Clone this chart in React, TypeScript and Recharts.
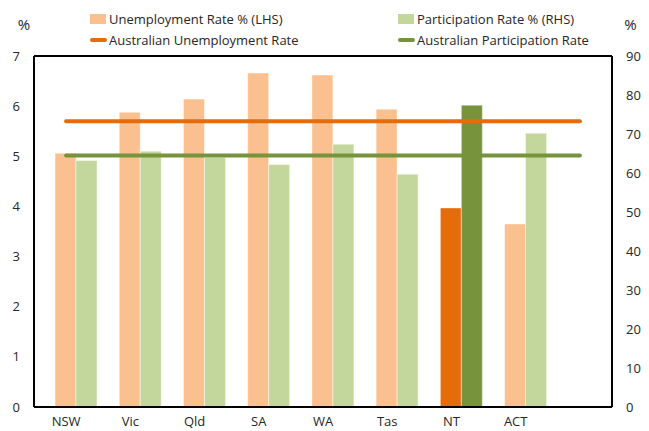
import { ComposedChart, Bar, Line, XAxis, YAxis, Cell, Legend, ReferenceLine, Label } from "recharts";

const states = ["NSW", "Vic", "Qld", "SA", "WA", "Tas", "NT", "ACT", ""];
const unemploymentRate = [5.06, 5.88, 6.14, 6.66, 6.62, 5.94, 3.97, 3.65, null];
const participationRate = [63.2, 65.6, 64.0, 62.2, 67.4, 59.7, 77.4, 70.2, null];
const ausUnemploymentRate = 5.7;
const ausParticipationRate = 64.5;
const leftTicks = [0, 1, 2, 3, 4, 5, 6, 7];
const rightTicks = [0, 10, 20, 30, 40, 50, 60, 70, 80, 90];
const highlight = "NT";

const data = states.map((state, i) => ({
  state,
  unemployment: unemploymentRate[i],
  participation: participationRate[i],
  ausUnemployment: ausUnemploymentRate,
  ausParticipation: ausParticipationRate,
}));

const FONT = "'Open Sans', sans-serif";
const TEXT = "#262626";
const tick = { fill: TEXT, fontSize: 13, fontFamily: FONT };

const legendItems = [
  { label: "Unemployment Rate % (LHS)", color: "#FAC090", kind: "box", x: 90, y: 19 },
  { label: "Participation Rate % (RHS)", color: "#C3D69B", kind: "box", x: 398, y: 19 },
  { label: "Australian Unemployment Rate", color: "#E46C0A", kind: "line", x: 90, y: 40 },
  { label: "Australian Participation Rate", color: "#77933C", kind: "line", x: 398, y: 40 },
];

function ChartLegend() {
  return (
    <div style={{ position: "relative", width: 649, height: 0, fontFamily: FONT, fontSize: 13, color: TEXT }}>
      {legendItems.map((it) => (
        <div key={it.label} style={{ position: "absolute", left: it.x, top: it.y - 9, height: 18, display: "flex", alignItems: "center", whiteSpace: "nowrap" }}>
          {it.kind === "box" ? (
            <span style={{ display: "inline-block", width: 16, height: 10, background: it.color, marginRight: 3 }} />
          ) : (
            <span style={{ display: "inline-block", width: 17, height: 4, borderRadius: 2, background: it.color, marginRight: 2 }} />
          )}
          {it.label}
        </div>
      ))}
    </div>
  );
}

export default function App() {
  return (
    <div style={{ position: "fixed", left: 0, top: 0, width: 649, height: 431, background: "#fff", overflow: "hidden" }}>
      <style>{"html, body { margin: 0; overflow: hidden; } svg { display: block; }"}</style>
      <ComposedChart
        width={649}
        height={431}
        data={data}
        margin={{ top: 56, right: 0, bottom: 0, left: 0 }}
        barCategoryGap={0}
        barGap={0}
      >
        <XAxis
          dataKey="state"
          height={24}
          tickLine={false}
          tickSize={0}
          tickMargin={10}
          axisLine={{ stroke: "#000", strokeWidth: 2 }}
          tick={tick}
          interval={0}
        />
        <YAxis
          yAxisId="left"
          width={34}
          domain={[0, 7]}
          ticks={leftTicks}
          tickLine={false}
          tickSize={0}
          tickMargin={14}
          axisLine={{ stroke: "#000", strokeWidth: 2 }}
          tick={tick}
        >
          <Label value="%" position="top" offset={26} style={{ fill: TEXT, fontSize: 15, fontFamily: FONT }} dx={7} />
        </YAxis>
        <YAxis
          yAxisId="right"
          orientation="right"
          width={37}
          domain={[0, 90]}
          ticks={rightTicks}
          tickLine={false}
          tickSize={0}
          tickMargin={14}
          axisLine={{ stroke: "#000", strokeWidth: 2 }}
          tick={tick}
        >
          <Label value="%" position="top" offset={26} style={{ fill: TEXT, fontSize: 15, fontFamily: FONT }} />
        </YAxis>
        <ReferenceLine yAxisId="left" y={7} stroke="#000" strokeWidth={2} />
        <Legend
          verticalAlign="top"
          wrapperStyle={{ top: 0, left: 0, width: 649, height: 0 }}
          content={() => <ChartLegend />}
        />
        <Bar yAxisId="left" dataKey={() => null} fill="transparent" isAnimationActive={false} legendType="none" />
        <Bar yAxisId="left" dataKey="unemployment" name="Unemployment Rate % (LHS)" fill="#FAC090" stroke="#fff" strokeOpacity={0.45} isAnimationActive={false}>
          {data.map((d) => (
            <Cell key={d.state} fill={d.state === highlight ? "#E46C0A" : "#FAC090"} />
          ))}
        </Bar>
        <Bar yAxisId="right" dataKey="participation" name="Participation Rate % (RHS)" fill="#C3D69B" stroke="#fff" strokeOpacity={0.45} isAnimationActive={false}>
          {data.map((d) => (
            <Cell key={d.state} fill={d.state === highlight ? "#77933C" : "#C3D69B"} />
          ))}
        </Bar>
        <Line yAxisId="left" dataKey="ausUnemployment" name="Australian Unemployment Rate" stroke="#E46C0A" strokeWidth={4} strokeLinecap="round" dot={false} activeDot={false} isAnimationActive={false} />
        <Line yAxisId="right" dataKey="ausParticipation" name="Australian Participation Rate" stroke="#77933C" strokeWidth={4} strokeLinecap="round" dot={false} activeDot={false} isAnimationActive={false} />
      </ComposedChart>
    </div>
  );
}
